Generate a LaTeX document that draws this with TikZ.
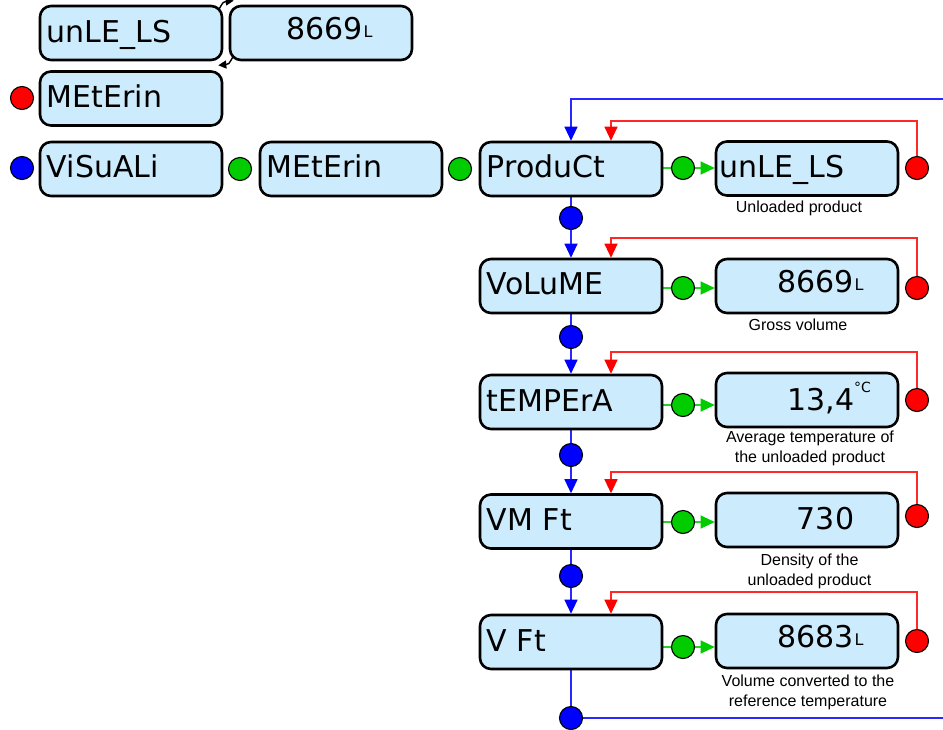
\documentclass[tikz,border=0pt]{standalone}
\usepackage{fontspec}
\setmainfont{DejaVu Sans}
\newfontfamily\capfont{Liberation Sans}
\usetikzlibrary{arrows.meta,calc,backgrounds}
\definecolor{boxfill}{RGB}{204,235,253}
\definecolor{dotred}{RGB}{255,0,0}
\definecolor{dotgreen}{RGB}{0,204,0}
\definecolor{dotblue}{RGB}{0,0,255}
\definecolor{lnred}{RGB}{255,40,40}
\definecolor{lnblue}{RGB}{40,40,255}
\definecolor{lngreen}{RGB}{40,210,40}
\newcommand\myunitL{\rlap{\hspace{0.5pt}\raisebox{2pt}{\fontsize{16}{16}\selectfont L}}}
\newcommand\mydegC{\rlap{\raisebox{18pt}{\fontsize{14}{14}\selectfont °C}}}
\tikzset{
  panel/.style={draw=black,line width=2.6pt,fill=boxfill,rounded corners=11pt,
    minimum width=182pt,minimum height=54pt,inner sep=0pt},
  lbl/.style={anchor=base west,inner sep=0pt,font=\fontsize{30}{30}\selectfont},
  val/.style={anchor=base east,inner sep=0pt,font=\fontsize{30}{30}\selectfont},
  dot/.style={circle,draw=black,line width=1.1pt,minimum size=23pt,inner sep=0pt},
  rdot/.style={dot,fill=dotred},
  gdot/.style={dot,fill=dotgreen},
  bdot/.style={dot,fill=dotblue},
  captxt/.style={align=center,inner sep=0pt,anchor=north,
    font=\capfont\fontsize{16}{19.5}\selectfont},
  rconn/.style={draw=lnred,line width=1.2pt,-{Triangle[length=14pt,width=13pt,color=dotred]}},
  bconn/.style={draw=lnblue,line width=1.2pt,-{Triangle[length=14pt,width=13pt,color=dotblue]}},
  bline/.style={draw=lnblue,line width=1.2pt},
  gline/.style={draw=lngreen,line width=1.2pt},
  gconn/.style={draw=lngreen,line width=1.2pt,-{Triangle[length=14pt,width=13pt,color=dotgreen]}},
  blk/.style={draw=black,line width=1.4pt,-{Triangle[length=8pt,width=8pt]}}
}
\begin{document}
\begin{tikzpicture}[x=1pt,y=-1pt]
\useasboundingbox (0,0) rectangle (943,729);
% top-left group
\node[panel] (u1) at (131,33) {};
\node[panel] (u2) at (321,33) {};
\node[lbl] (tu1) at ($(u1.west)+(8,9)$) {unLE\_LS};
\node[val] (tu2) at ($(u2.east)+(-50,6)$) {8669\myunitL};
\node[rdot] (rt) at (22,98) {};
\node[panel] (m1) at (131,98.5) {};
\node[lbl] (tm1) at ($(m1.west)+(8,9)$) {MEtErin};
\node[bdot] (bl) at (22,168) {};
\node[panel] (vis) at (131,169) {};
\node[lbl] (tvis) at ($(vis.west)+(8,8.5)$) {ViSuALi};
\node[gdot] (gA) at (240,169) {};
\node[panel] (m2) at (351,169) {};
\node[lbl] (tm2) at ($(m2.west)+(8,8.5)$) {MEtErin};
\node[gdot] (gB) at (460,169) {};
% main column
\node[panel] (b1) at (571,169) {};
\node[panel] (b2) at (571,286) {};
\node[panel] (b3) at (571,402) {};
\node[panel] (b4) at (571,521.5) {};
\node[panel] (b5) at (571,642) {};
\node[lbl] (tb1) at ($(b1.west)+(8,8.5)$) {ProduCt};
\node[lbl] (tb2) at ($(b2.west)+(8,8.5)$) {VoLuME};
\node[lbl] (tb3) at ($(b3.west)+(8,9)$) {tEMPErA};
\node[lbl] (tb4) at ($(b4.west)+(8,9)$) {VM Ft};
\node[lbl] (tb5) at ($(b5.west)+(8,9)$) {V Ft};
% value column
\node[panel] (v1) at (807,168.5) {};
\node[panel] (v2) at (807,286) {};
\node[panel] (v3) at (807,400) {};
\node[panel] (v4) at (807,520) {};
\node[panel] (v5) at (807,641) {};
\node[lbl] (tv1) at ($(v1.west)+(5,8.5)$) {unLE\_LS};
\node[val] (tv2) at ($(v2.east)+(-45,6.5)$) {8669\myunitL};
\node[val] (tv3) at ($(v3.east)+(-45,10)$) {13,4\mydegC};
\node[val] (tv4) at ($(v4.east)+(-45,9)$) {730};
\node[val] (tv5) at ($(v5.east)+(-45,6.5)$) {8683\myunitL};
% captions
\node[captxt] (c1) at (799,201) {Unloaded product};
\node[captxt] (c2) at (798,319) {Gross volume};
\node[captxt] (c3) at (810,431) {Average temperature of\\the unloaded product};
\node[captxt] (c4) at (809.5,554) {Density of the\\unloaded product};
\node[captxt] (c5) at (808,675) {Volume converted to the\\reference temperature};
% dots
\foreach \i/\g/\r/\b in {1/168/168/218, 2/288/288/337, 3/405/400/455, 4/522/516/576, 5/647/641/718}{
  \node[gdot] (g\i) at (683,\g) {};
  \node[rdot] (r\i) at (917,\r) {};
  \node[bdot] (bd\i) at (571,\b) {};
}
\coordinate (bin) at (943,99);
\coordinate (bout) at (943,718);
\coordinate (rc1) at (611,121);
\coordinate (rc2) at (611,238);
\coordinate (rc3) at (611,352);
\coordinate (rc4) at (611,472);
\coordinate (rc5) at (611,592);
\begin{scope}[on background layer]
  \draw[bconn] (bin) -| (b1.north);
  \foreach \i in {1,...,5}{
    \draw[rconn] (r\i.north) |- (rc\i) -- (rc\i |- b\i.north);
    \draw[gline] (b\i.east |- g\i) -- (g\i);
    \draw[gconn] (g\i) -- (v\i.west |- g\i);
    \draw[bline] (b\i.south) -- (bd\i);
  }
  \draw[bconn] (bd1) -- (b2.north);
  \draw[bconn] (bd2) -- (b3.north);
  \draw[bconn] (bd3) -- (b4.north);
  \draw[bconn] (bd4) -- (b5.north);
  \draw[bline] (bd5) -- (bout);
\end{scope}
% swap arrows between top boxes
\draw[blk] ($(u1.north east)+(-4,4)$) .. controls ($(u1.north east)+(0,-3)$) .. ($(u2.north west)+(5,-4)$);
\draw[blk] ($(u2.south west)+(4,-4)$) .. controls ($(u2.south west)+(0,3)$) .. ($(u1.south east)+(-5,4)$);
\end{tikzpicture}
\end{document}
